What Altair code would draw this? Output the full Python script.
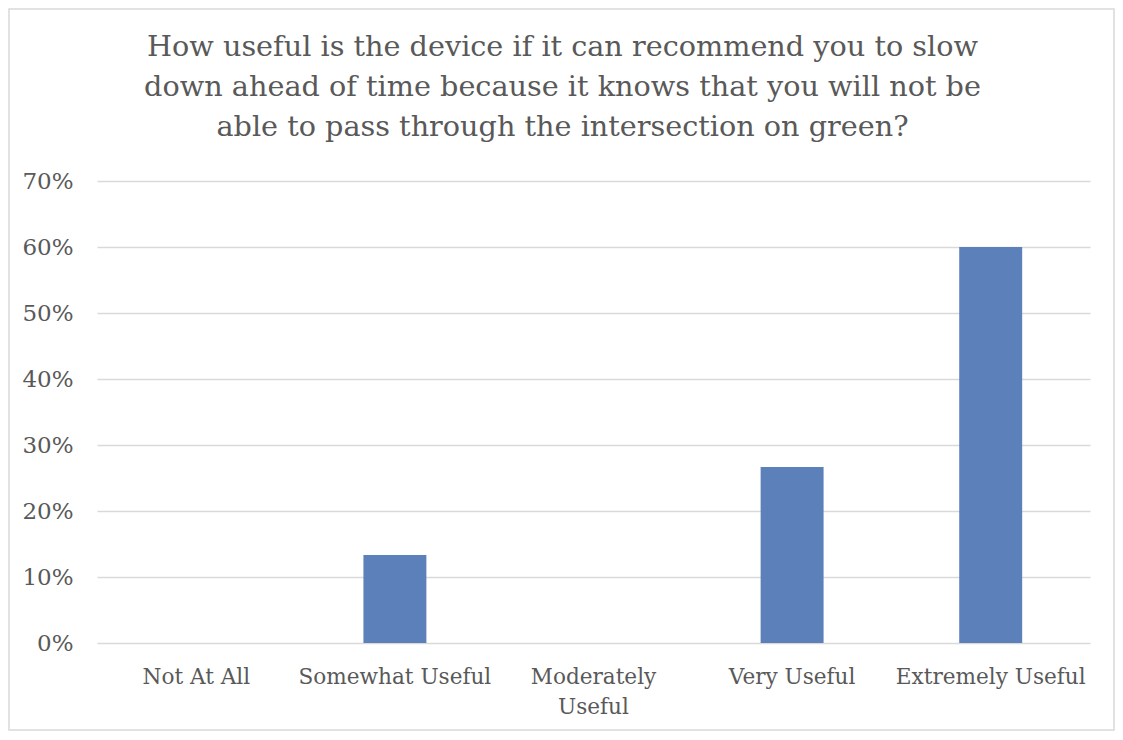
import altair as alt
import pandas as pd

categories = ["Not At All", "Somewhat Useful", "Moderately Useful", "Very Useful", "Extremely Useful"]
values = [0.0, 0.1333, 0.0, 0.2667, 0.60]
y_ticks = [0, 0.1, 0.2, 0.3, 0.4, 0.5, 0.6, 0.7]
title_lines = [
    "How useful is the device if it can recommend you to slow",
    "down ahead of time because it knows that you will not be",
    "able to pass through the intersection on green?",
]

FONT = "DejaVu Serif"
TEXT = "#595959"
GRID = "#d9d9d9"

df = pd.DataFrame({"category": categories, "value": values})

bars = alt.Chart(df).mark_bar(color="#5b80ba").encode(
    x=alt.X(
        "category:N",
        sort=categories,
        scale=alt.Scale(paddingInner=0.683, paddingOuter=0.3415),
        axis=alt.Axis(
            title=None,
            labelAngle=0,
            ticks=False,
            domain=False,
            grid=False,
            labelFont=FONT,
            labelFontSize=21.6,
            labelColor=TEXT,
            labelPadding=23,
            labelLineHeight=30,
            labelLimit=300,
            labelExpr="datum.label == 'Moderately Useful' ? ['Moderately', 'Useful'] : datum.label",
        ),
    ),
    y=alt.Y(
        "value:Q",
        scale=alt.Scale(domain=[0, 0.7], nice=False),
        axis=alt.Axis(
            title=None,
            values=y_ticks,
            format=".0%",
            ticks=False,
            domain=False,
            grid=True,
            gridColor=GRID,
            gridWidth=1.4,
            labelFont=FONT,
            labelFontSize=23,
            labelColor=TEXT,
            labelPadding=24,
        ),
    ),
)

frame = alt.Chart(pd.DataFrame({"a": [0]})).mark_rect(
    fill="transparent", stroke=GRID, strokeWidth=1.5
).encode(
    x=alt.value(-88), x2=alt.value(1017), y=alt.value(-172), y2=alt.value(549)
)

chart = alt.layer(frame, bars).properties(
    width=993,
    height=462,
    background="white",
    autosize=alt.AutoSizeParams(type="none"),
    padding={"left": 89, "top": 173, "right": 25, "bottom": 88},
    title=alt.TitleParams(
        text=title_lines,
        font=FONT,
        fontSize=28.7,
        fontWeight="normal",
        color=TEXT,
        anchor="middle",
        dx=-31,
        offset=-133,
        lineHeight=40,
    ),
).configure_view(stroke="transparent")

chart.save("out.html", embed_options={"renderer": "svg", "actions": False})
